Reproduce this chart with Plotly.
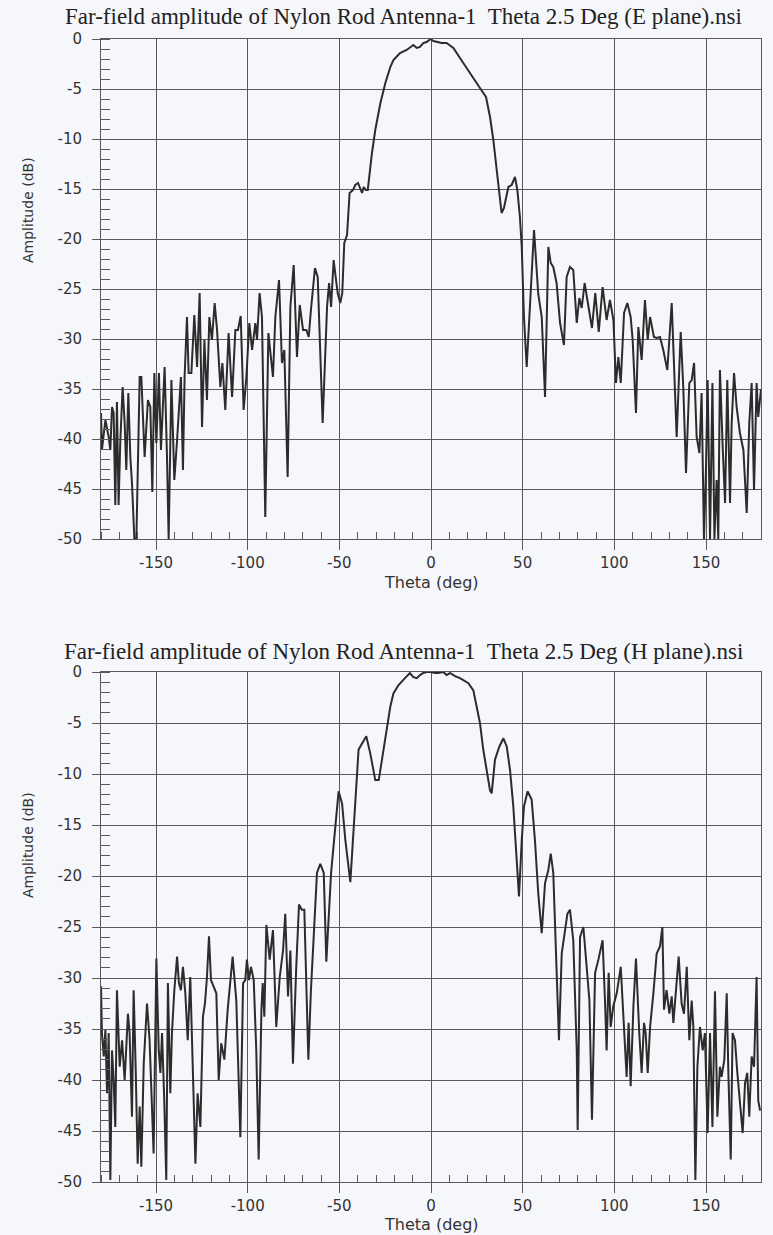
import plotly.graph_objects as go

# ---------------- data: E plane ----------------
e_theta = [-180, -179.5, -177.6, -175.8, -174.9, -174.0, -173.1, -172.2, -171.3, -170.4, -169.5, -168.2, -167.1, -166.2,
           -165.1, -164.0, -163.1, -161.8, -160.7, -158.9, -158.0, -156.2, -154.4, -153.1, -152.0, -150.9, -149.8,
           -148.4, -147.3, -145.3, -144.0, -143.1, -141.6, -140.0, -138.5, -136.4, -135.3, -134.4, -133.1, -132.2,
           -130.7, -129.1, -127.6, -126.2, -124.9, -123.6, -122.2, -120.9, -119.5, -118.0, -116.7, -114.9, -113.8,
           -112.2, -110.4, -108.5, -106.7, -105.3, -103.8, -102.2, -100.7, -99.1, -97.6, -95.8, -94.9, -93.5, -92.2,
           -90.4, -88.7, -87.3, -86.2, -84.9, -82.9, -81.3, -80.0, -78.2, -76.7, -74.9, -73.1, -71.6, -69.8, -68.0,
           -66.7, -65.5, -63.3, -61.8, -59.1, -56.7, -55.6, -54.5, -53.1, -52.0, -50.9, -49.5, -48.4, -47.3, -45.8,
           -44.4, -42.5, -41.3, -39.8, -37.6, -36.7, -35.5, -34.5, -32.2, -30.4, -27.6, -24.9, -22.2, -20.5, -16.9,
           -13.3, -9.6, -7.8, -6.0, -4.2, -2.4, -0.2, 1.3, 3.1, 5.8, 8.5, 12.2, 15.8, 19.5, 23.1, 26.7, 30.0, 32.2,
           34.0, 35.8, 37.6, 38.5, 39.8, 42.2, 44.0, 45.8, 47.1, 48.5, 49.5, 50.7, 52.2, 54.0, 56.2, 58.5, 60.4, 62.2,
           64.0, 65.3, 66.7, 68.5, 70.4, 72.5, 74.0, 75.8, 77.6, 79.5, 80.9, 82.2, 83.8, 85.3, 87.8, 89.6, 91.5, 93.6,
           95.8, 97.6, 99.5, 100.9, 102.2, 103.5, 105.3, 107.1, 108.9, 110.0, 111.8, 113.1, 114.9, 116.7, 118.2,
           119.5, 121.6, 123.1, 124.9, 126.7, 128.9, 131.3, 134.0, 136.2, 137.6, 139.1, 140.9, 142.2, 143.5, 144.9,
           146.4, 147.6, 148.9, 150.0, 150.9, 152.2, 153.5, 154.6, 155.8, 156.7, 157.6, 159.1, 160.4, 161.6, 163.1,
           164.0, 165.3, 166.7, 168.5, 170.4, 172.2, 173.6, 174.9, 176.2, 177.6, 178.5, 180]
e_amp = [-37.4, -41.1, -38.1, -39.8, -41.1, -36.8, -37.4, -46.6, -36.3, -46.6, -40.4, -34.8, -38.4, -43.1,
         -35.4, -41.8, -44.4, -50.0, -50.0, -33.8, -33.8, -41.8, -36.1, -36.8, -45.3, -33.4, -40.4,
         -33.4, -41.1, -32.8, -41.8, -50.0, -34.1, -44.1, -40.1, -33.8, -43.1, -33.8, -27.8, -33.4,
         -33.4, -27.6, -32.8, -25.4, -38.8, -30.1, -36.1, -27.8, -30.1, -26.4, -29.1, -34.8, -32.4,
         -37.1, -29.4, -35.8, -29.1, -29.1, -27.7, -37.1, -33.8, -28.4, -31.1, -28.4, -30.1, -25.4, -27.8,
         -47.8, -29.4, -32.1, -33.8, -27.8, -24.1, -32.4, -31.1, -43.8, -26.8, -22.6, -31.8, -26.6, -29.1, -29.1,
         -29.8, -27.1, -22.9, -23.8, -38.4, -26.8, -24.4, -26.8, -22.1, -23.8, -25.4, -26.4, -25.4, -20.4, -19.6,
         -15.4, -15.1, -14.6, -14.4, -15.4, -14.8, -15.1, -15.1, -11.4, -9.1, -6.4, -4.4, -2.8, -2.1, -1.4,
         -1.1, -0.6, -0.9, -0.8, -0.4, -0.3, 0.0, -0.2, -0.3, -0.4, -0.4, -0.9, -1.9, -2.9, -3.8, -4.9, -5.8, -7.8,
         -10.1, -12.8, -15.8, -17.4, -16.9, -14.8, -14.6, -13.8, -15.1, -17.8, -20.8, -27.8, -32.8, -26.1, -19.1,
         -25.5, -27.8, -35.8,
         -20.8, -22.4, -22.8, -24.4, -28.4, -30.6, -23.8, -22.8, -23.1, -28.4, -25.9, -26.9, -24.4, -26.1, -28.9,
         -25.4, -29.3, -24.8,
         -28.1, -26.1, -28.1, -34.4, -31.8, -34.4, -27.4, -26.4, -27.8, -30.1, -37.4, -28.8, -32.1, -26.1, -30.1,
         -27.8, -29.8, -29.9, -29.8, -31.1, -33.1, -26.4, -39.8, -29.3, -34.8, -43.4, -34.4, -34.1, -32.4, -39.8,
         -41.4, -35.4, -50.0, -42.8, -34.1, -50.0, -34.4, -50.0, -44.1, -50.0, -33.1, -40.8, -46.4, -34.1, -46.4,
         -38.4, -33.4, -36.8, -39.4, -41.1, -47.4, -38.4, -34.4, -45.1, -34.4, -37.8, -35.0]

# ---------------- data: H plane ----------------
h_theta = [-180, -179.5, -178.5, -177.6, -176.7, -175.8, -174.9, -174.0, -173.1, -172.2, -171.3, -169.8, -168.5,
           -167.1, -165.3, -164.4, -163.1, -162.2, -161.1, -160.0, -158.9, -158.0, -156.7, -154.9, -153.5, -151.3,
           -149.8, -148.5, -147.6, -146.7, -145.5, -144.4, -143.5, -142.2, -141.3, -140.0, -138.5, -137.5, -136.4,
           -135.3, -134.0, -132.7, -131.3, -129.8, -128.5, -127.3, -125.8, -124.4, -123.3, -122.2, -121.1, -120.0,
           -118.5, -117.1, -115.8, -114.4, -112.7, -110.9, -108.2, -106.2, -104.0, -102.5, -101.3, -100.4, -99.3,
           -98.2, -96.7, -95.3, -94.0, -92.5, -91.8, -90.9, -89.8, -88.0, -86.2, -84.4, -82.5, -80.7, -79.5, -78.0,
           -76.7, -75.3, -73.5, -72.0, -70.5, -69.1, -66.9, -65.5, -64.0, -62.2, -60.4, -58.5, -57.1, -55.8, -54.5,
           -52.2, -50.4, -48.5, -46.7, -44.0, -42.2, -39.5, -37.6, -35.3, -33.1, -30.4, -28.5, -25.8, -22.2, -20.5,
           -17.8, -14.2, -11.5, -9.6, -7.8, -6.0, -4.2, -2.4, -0.2, 2.2, 4.0, 6.7, 8.5, 10.4, 13.1, 15.8, 20.4, 23.1,
           24.9, 26.7, 28.5, 30.4, 32.2, 33.1, 34.9, 37.3, 39.5, 41.3, 43.1, 44.9, 46.7, 48.0, 49.5, 50.7, 52.7, 54.9,
           56.7, 58.5, 60.4, 62.2, 64.0, 65.3, 66.7, 68.5, 69.8, 71.3, 73.1, 74.4, 75.8, 77.6, 79.5, 80.0, 81.3, 83.1,
           84.9, 86.4, 87.8, 89.5, 91.3, 92.2, 93.6, 94.9, 95.8, 96.9, 98.0, 99.4, 101.3, 103.5, 105.3, 106.7, 107.8,
           108.9, 110.4, 111.8, 113.6, 114.9, 116.2, 117.1, 118.2, 119.5, 121.3, 123.1, 124.9, 126.2, 127.1, 128.5,
           130.0, 131.3, 132.2, 133.6, 135.1, 136.7, 138.0, 139.5, 140.9, 142.2, 143.1, 144.2, 145.3, 146.7, 148.2,
           149.4, 150.9, 152.2, 153.5, 154.9, 156.2, 157.6, 158.5, 160.0, 161.3, 162.2, 163.5, 164.5, 165.8, 167.1,
           168.5, 170.0, 171.3, 172.5, 173.6, 174.9, 176.2, 177.6, 178.5, 179.5]
h_amp = [-30.8, -35.4, -37.7, -35.1, -41.3, -35.4, -49.8, -37.1, -40.0, -44.6, -31.2, -38.7, -36.1,
         -40.0, -33.5, -35.4, -43.6, -31.2, -38.7, -48.2, -42.6, -48.5, -38.4, -32.5, -36.1, -47.2,
         -28.1, -37.1, -39.3, -35.4, -42.0, -49.8, -30.5, -41.3, -35.4, -31.2, -27.9, -30.5, -31.2,
         -28.9, -31.5, -36.1, -29.9, -41.3, -48.2, -41.3, -44.6, -33.8, -32.5, -29.9, -25.9, -30.2,
         -30.8, -31.5, -40.0, -36.4, -38.0, -33.1, -27.9, -32.2, -45.6, -30.5, -30.2, -28.2, -30.2,
         -28.9, -30.2, -37.1, -47.8, -33.1, -30.5, -33.8, -24.8, -28.2, -25.3, -34.8, -29.9, -27.3, -23.7, -31.8,
         -27.3, -38.4, -28.9, -22.8, -23.3, -23.3, -38.0, -31.2, -26.0, -19.7, -18.8, -19.7, -28.4, -24.6, -19.7,
         -15.2, -11.7, -12.9, -16.5, -20.6, -15.8, -7.6, -7.0, -6.3, -8.0, -10.6, -10.6, -7.6, -3.4, -2.1,
         -1.3, -0.6, -0.1, -0.5, -0.6, -0.3, -0.1, 0.0, 0.0, -0.1, -0.1, 0.0, -0.3, -0.1, -0.4, -0.6, -1.1, -1.8,
         -3.4, -5.0, -7.6, -9.9, -11.6, -11.9, -8.6, -7.3, -6.5, -7.3, -9.6, -13.2, -18.1, -22.0, -16.5, -13.2, -11.7, -12.5,
         -16.5, -21.7, -25.6, -20.7, -19.4, -17.8, -19.7, -30.5, -36.1, -27.6, -25.3, -23.7, -23.3, -26.3, -37.1, -44.9, -26.0, -25.0,
         -28.9, -32.2, -43.9, -29.5, -28.2, -27.3, -26.3, -32.2, -37.1, -29.5, -34.8, -32.8, -31.5, -28.9, -34.4, -39.7, -34.4,
         -40.6, -32.8, -28.1, -35.4, -39.3, -34.4, -35.4, -39.3, -34.8, -31.5, -27.6, -26.9, -25.0, -33.1, -31.2,
         -33.5, -31.8, -34.4, -31.5, -27.9, -32.5, -33.5, -28.9, -36.1, -32.2, -34.8, -49.8, -38.7, -34.8, -37.1,
         -35.4, -45.2, -35.4, -44.6, -31.3, -43.6, -38.7, -39.7, -38.0, -31.5, -39.3, -47.8, -35.4, -36.1, -39.3,
         -42.6, -45.2, -40.3, -39.3, -43.6, -37.7, -38.7, -29.9, -42.0, -43.0]

titles = ["Far-field amplitude of Nylon Rod Antenna-1  Theta 2.5 Deg (E plane).nsi",
          "Far-field amplitude of Nylon Rod Antenna-1  Theta 2.5 Deg (H plane).nsi"]
x_title = "Theta (deg)"
y_title = "Amplitude (dB)"
x_ticks = [-150, -100, -50, 0, 50, 100, 150]
x_tick_text = ["-150", "-100", "-50", "0", "50", "100", "150"]
y_ticks = [-50, -45, -40, -35, -30, -25, -20, -15, -10, -5, 0]
y_tick_text = ["-50", "-45", "-40", "-35", "-30", "-25", "-20", "-15", "-10", "-5", "0"]

# ---------------- figure ----------------
W, H = 773, 1235
ML, MR, MT, MB = 101, 12, 39, 53
PH = H - MT - MB
BG = "#f6f7fb"
GRID = "#5a5a5a"
INK = "#2c2c2c"
TICKFONT = dict(family="DejaVu Sans", size=15, color="#333333")

fig = go.Figure()
fig.add_trace(go.Scatter(x=e_theta, y=e_amp, mode="lines", line=dict(color=INK, width=2),
                         xaxis="x", yaxis="y", showlegend=False))
fig.add_trace(go.Scatter(x=h_theta, y=h_amp, mode="lines", line=dict(color=INK, width=2),
                         xaxis="x2", yaxis="y2", showlegend=False))

top_dom = [1 - 500 / PH, 1]
bot_dom = [0, 1 - 633 / PH]

def xaxis(anchor):
    return dict(range=[-180, 180], domain=[0, 1], anchor=anchor, tickvals=x_ticks, ticktext=x_tick_text,
                showgrid=True, gridcolor=GRID, gridwidth=1, zeroline=False,
                showline=True, linecolor=GRID, linewidth=1, mirror=True,
                ticks="outside", ticklen=10, tickcolor=GRID, tickfont=TICKFONT,
                minor=dict(dtick=10, tick0=0, ticks="inside", ticklen=7, tickcolor=GRID, showgrid=False))

def yaxis(anchor, dom):
    return dict(range=[-50, 0], domain=dom, anchor=anchor, tickvals=y_ticks, ticktext=y_tick_text,
                showgrid=True, gridcolor=GRID, gridwidth=1, zeroline=False,
                showline=True, linecolor=GRID, linewidth=1, mirror=True,
                ticks="outside", ticklen=8, tickcolor=GRID, tickfont=TICKFONT, ticklabelstandoff=7,
                minor=dict(dtick=1, tick0=0, ticks="inside", ticklen=9, tickcolor=GRID, showgrid=False))

def px_x(p):
    return (p - ML) / (W - ML - MR)

def px_y(p):
    return 1 - (p - MT) / PH

ann = []
for title, ty, xty, yty in [(titles[0], 17, 582, 210), (titles[1], 651, 1224, 845)]:
    ann.append(dict(text=title, x=px_x(403), y=px_y(ty), xref="paper", yref="paper", showarrow=False,
                    xanchor="center", yanchor="middle",
                    font=dict(family="Liberation Serif", size=23, color="#222222")))
    ann.append(dict(text=x_title, x=px_x(431), y=px_y(xty), xref="paper", yref="paper", showarrow=False,
                    xanchor="center", yanchor="middle", font=dict(family="DejaVu Sans", size=16, color="#333333")))
    ann.append(dict(text=y_title, x=px_x(28), y=px_y(yty), xref="paper", yref="paper", showarrow=False,
                    textangle=-90, xanchor="center", yanchor="middle",
                    font=dict(family="DejaVu Sans", size=14, color="#333333")))

fig.update_layout(
    width=W, height=H,
    margin=dict(l=ML, r=MR, t=MT, b=MB),
    paper_bgcolor=BG, plot_bgcolor=BG,
    xaxis=xaxis("y"), yaxis=yaxis("x", top_dom),
    xaxis2=xaxis("y2"), yaxis2=yaxis("x2", bot_dom),
    annotations=ann,
)

fig.write_html("out.html", config={"displayModeBar": False},
               post_script="document.body.style.margin='0px';document.body.style.overflow='hidden';")
